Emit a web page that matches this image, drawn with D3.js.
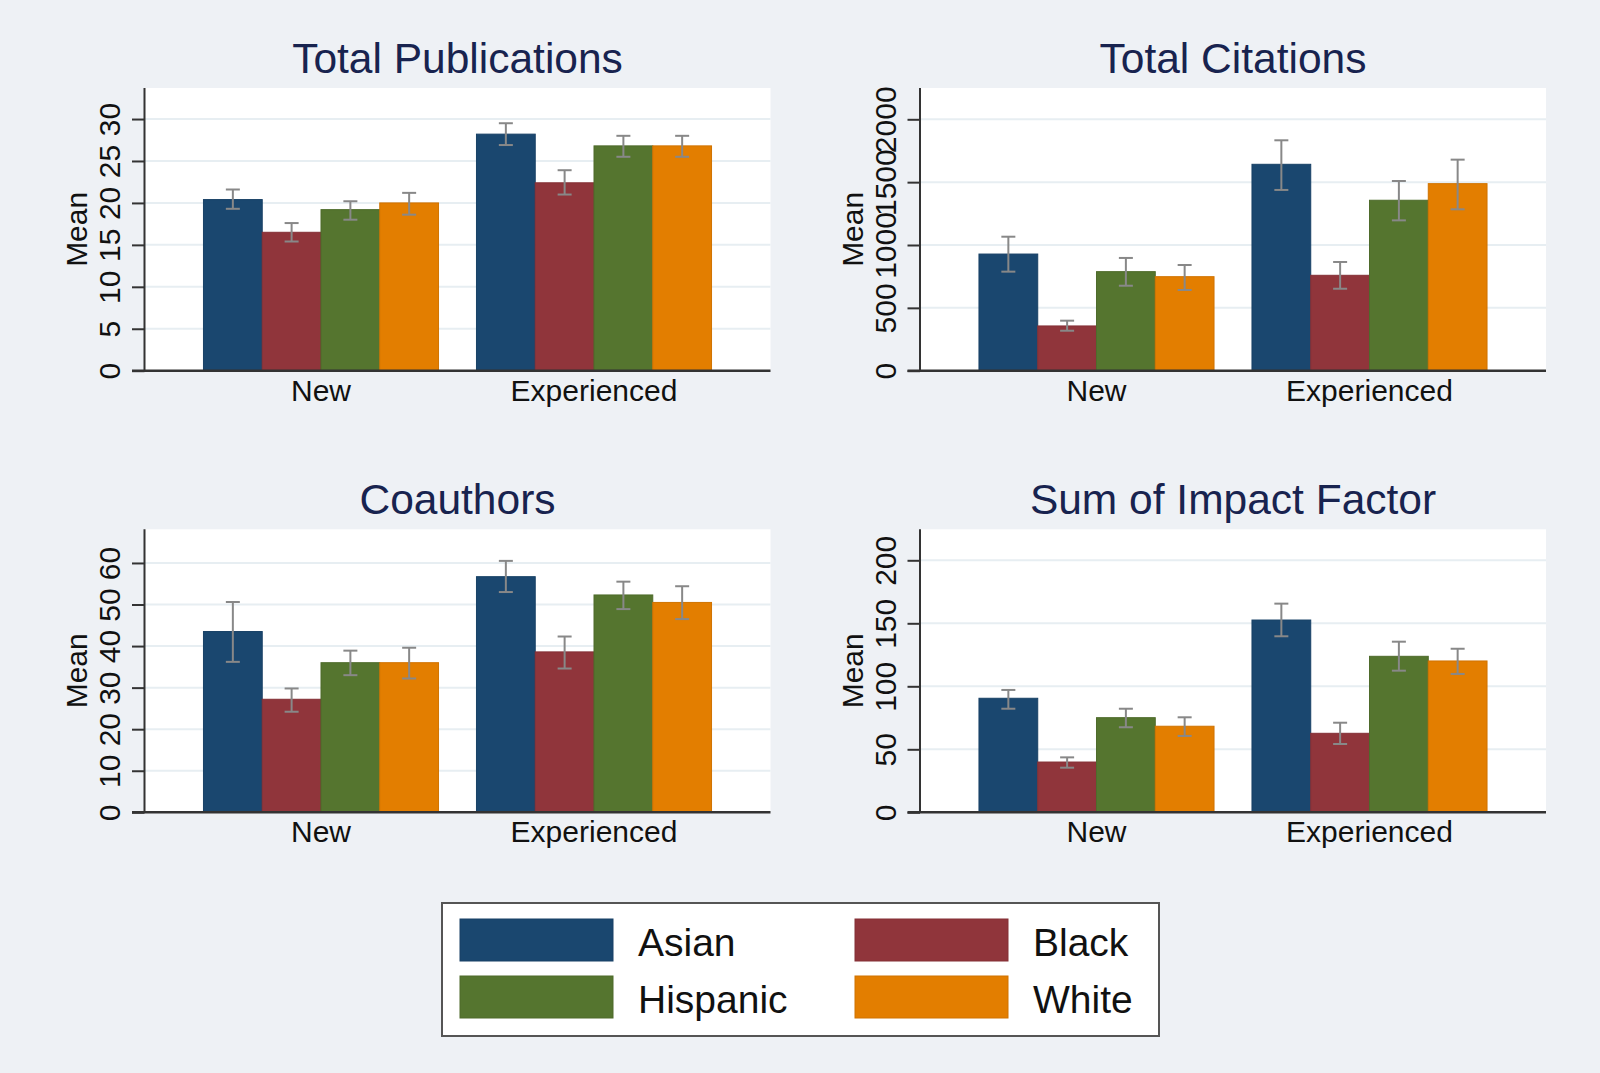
<!DOCTYPE html>
<html>
<head>
<meta charset="utf-8">
<script src="https://cdn.jsdelivr.net/npm/d3@7"></script>
<style>
  body { margin: 0; background: #eef1f5; }
  svg { display: block; font-family: "Liberation Sans", Arial, Helvetica, sans-serif; }
</style>
</head>
<body>
<svg id="chart" width="1600" height="1073"></svg>
<script>
// categories
const groups = ["New", "Experienced"];
const races = ["Asian", "Black", "Hispanic", "White"];
const raceColors = ["#1a476f", "#90353b", "#55752f", "#e37e00"];

// panel titles and y ticks
const titles = ["Total Publications", "Total Citations", "Coauthors", "Sum of Impact Factor"];
const pubTicks = [0, 5, 10, 15, 20, 25, 30];
const citTicks = [0, 500, 1000, 1500, 2000];
const coTicks = [0, 10, 20, 30, 40, 50, 60];
const ifTicks = [0, 50, 100, 150, 200];

// means, [New..., Experienced...] in race order
const pubMean = [[20.4, 16.5, 19.2, 20.0], [28.2, 22.4, 26.8, 26.8]];
const pubLo = [[19.3, 15.4, 18.0, 18.6], [26.9, 21.0, 25.5, 25.5]];
const pubHi = [[21.6, 17.6, 20.2, 21.2], [29.5, 23.9, 28.0, 28.0]];

const citMean = [[928, 356, 788, 748], [1642, 759, 1356, 1488]];
const citLo = [[788, 318, 676, 642], [1438, 652, 1196, 1284]];
const citHi = [[1066, 398, 897, 841], [1833, 865, 1509, 1679]];

const coMean = [[43.5, 27.2, 36.0, 36.0], [56.7, 38.6, 52.3, 50.5]];
const coLo = [[36.2, 24.2, 33.0, 32.2], [53.0, 34.6, 48.9, 46.5]];
const coHi = [[50.6, 29.8, 38.9, 39.6], [60.5, 42.3, 55.5, 54.4]];

const ifMean = [[90.5, 39.9, 75.1, 68.3], [152.6, 62.7, 123.8, 120.1]];
const ifLo = [[82.2, 35.4, 67.5, 60.6], [139.7, 54.2, 112.4, 109.8]];
const ifHi = [[97.1, 43.6, 82.2, 75.4], [165.6, 71.1, 135.4, 129.8]];

const panels = [
  { title: titles[0], ticks: pubTicks, yMax: 33.7, mean: pubMean, lo: pubLo, hi: pubHi, x0: 144.5, top: 88, base: 370.7 },
  { title: titles[1], ticks: citTicks, yMax: 2249, mean: citMean, lo: citLo, hi: citHi, x0: 920, top: 88, base: 370.7 },
  { title: titles[2], ticks: coTicks, yMax: 68.1, mean: coMean, lo: coLo, hi: coHi, x0: 144.5, top: 529.3, base: 812.3 },
  { title: titles[3], ticks: ifTicks, yMax: 224.6, mean: ifMean, lo: ifLo, hi: ifHi, x0: 920, top: 529.3, base: 812.3 }
];
const plotW = 626;

const svg = d3.select("#chart");
svg.append("rect").attr("width", 1600).attr("height", 1073).attr("fill", "#eef1f5");

panels.forEach(p => {
  const x1 = p.x0 + plotW;
  const g = svg.append("g");

  const y = d3.scaleLinear().domain([0, p.yMax]).range([p.base, p.top]);
  const xg = d3.scaleBand().domain(groups).range([p.x0, x1]).paddingInner(0.139).paddingOuter(0.216);
  const xr = d3.scaleBand().domain(races).range([0, xg.bandwidth()]);
  const color = d3.scaleOrdinal().domain(races).range(raceColors);

  // plot region
  g.append("rect")
    .attr("x", p.x0).attr("y", p.top)
    .attr("width", plotW).attr("height", p.base - p.top)
    .attr("fill", "#ffffff");

  // grid lines
  g.selectAll("line.grid").data(p.ticks.filter(t => t > 0)).join("line")
    .attr("class", "grid")
    .attr("x1", p.x0).attr("x2", x1)
    .attr("y1", d => y(d)).attr("y2", d => y(d))
    .attr("stroke", "#e7eef2").attr("stroke-width", 2);

  // bars
  const rows = [];
  groups.forEach((grp, gi) => races.forEach((r, ri) => {
    rows.push({ grp, race: r, v: p.mean[gi][ri], lo: p.lo[gi][ri], hi: p.hi[gi][ri] });
  }));

  g.selectAll("rect.bar").data(rows).join("rect")
    .attr("class", "bar")
    .attr("x", d => xg(d.grp) + xr(d.race))
    .attr("y", d => y(d.v))
    .attr("width", xr.bandwidth())
    .attr("height", d => p.base - y(d.v))
    .attr("fill", d => color(d.race))
    .attr("stroke", d => d3.color(color(d.race)).darker(0.25))
    .attr("stroke-width", 1);

  // error bars
  const eb = g.selectAll("g.err").data(rows).join("g")
    .attr("class", "err")
    .attr("transform", d => `translate(${xg(d.grp) + xr(d.race) + xr.bandwidth() / 2},0)`)
    .attr("stroke", "#888888").attr("stroke-width", 2);
  eb.append("line").attr("y1", d => y(d.lo)).attr("y2", d => y(d.hi));
  eb.append("line").attr("x1", -7).attr("x2", 7).attr("y1", d => y(d.hi)).attr("y2", d => y(d.hi));
  eb.append("line").attr("x1", -7).attr("x2", 7).attr("y1", d => y(d.lo)).attr("y2", d => y(d.lo));

  // y axis
  const yAxis = d3.axisLeft(y).tickValues(p.ticks).tickSize(12.5).tickPadding(11).tickFormat(d3.format("d"));
  const ya = g.append("g").attr("transform", `translate(${p.x0},0)`).call(yAxis);
  ya.select(".domain").attr("d", `M0,${p.top}V${p.base}`).attr("stroke", "#333").attr("stroke-width", 2);
  ya.selectAll(".tick line").attr("stroke", "#333").attr("stroke-width", 2);
  ya.selectAll(".tick text")
    .attr("x", null).attr("dy", null)
    .attr("transform", "translate(-24.5,0) rotate(-90)")
    .attr("text-anchor", "middle")
    .attr("font-size", 30).attr("fill", "#111");

  // x axis line
  g.append("line")
    .attr("x1", p.x0 - 12.5).attr("x2", x1)
    .attr("y1", p.base).attr("y2", p.base)
    .attr("stroke", "#333").attr("stroke-width", 2.5);

  // x labels
  g.selectAll("text.xl").data(groups).join("text")
    .attr("class", "xl")
    .attr("x", d => xg(d) + xg.bandwidth() / 2)
    .attr("y", p.base + 30)
    .attr("text-anchor", "middle")
    .attr("font-size", 30).attr("fill", "#111")
    .text(d => d);

  // y title
  g.append("text")
    .attr("transform", `translate(${p.x0 - 57.5},${(p.top + p.base) / 2}) rotate(-90)`)
    .attr("text-anchor", "middle")
    .attr("font-size", 30).attr("fill", "#111")
    .text("Mean");

  // panel title
  g.append("text")
    .attr("x", p.x0 + plotW / 2).attr("y", p.top - 15)
    .attr("text-anchor", "middle")
    .attr("font-size", 42.5).attr("fill", "#18234f")
    .text(p.title);
});

// legend
const leg = svg.append("g");
leg.append("rect")
  .attr("x", 442).attr("y", 903).attr("width", 717).attr("height", 133)
  .attr("fill", "#ffffff").attr("stroke", "#555").attr("stroke-width", 2);

const legCol = [460, 855];
const legRow = [919, 976];
const items = leg.selectAll("g.item").data(races).join("g")
  .attr("class", "item")
  .attr("transform", (d, i) => `translate(${legCol[i % 2]},${legRow[Math.floor(i / 2)]})`);
items.append("rect")
  .attr("width", 153).attr("height", 42)
  .attr("fill", (d, i) => raceColors[i])
  .attr("stroke", (d, i) => d3.color(raceColors[i]).darker(0.25));
items.append("text")
  .attr("x", 178).attr("y", 37)
  .attr("font-size", 39).attr("fill", "#111")
  .text(d => d);
</script>
</body>
</html>
